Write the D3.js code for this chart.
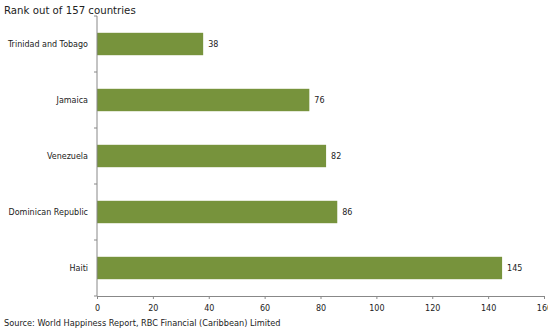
<!DOCTYPE html>
<html>
<head>
<meta charset="utf-8">
<script src="https://cdn.jsdelivr.net/npm/d3@7"></script>
<style>
  body { margin: 0; background: #fff; }
  text { font-family: "DejaVu Sans", Verdana, sans-serif; fill: #222; }
</style>
</head>
<body>
<div id="chart"></div>
<script>
var countries = ["Trinidad and Tobago", "Jamaica", "Venezuela", "Dominican Republic", "Haiti"];
var ranks = [38, 76, 82, 86, 145];
var xTicks = [0, 20, 40, 60, 80, 100, 120, 140, 160];

var svgWidth = 548;
var svgHeight = 330;
var margin = { top: 16, right: 4, bottom: 34, left: 97 };
var width = svgWidth - margin.left - margin.right;
var height = svgHeight - margin.top - margin.bottom;

var svg = d3.select("#chart")
    .append("svg")
    .attr("width", svgWidth)
    .attr("height", svgHeight);

var chartGroup = svg.append("g")
    .attr("transform", `translate(${margin.left}, ${margin.top})`);

var data = countries.map((c, i) => ({ country: c, rank: ranks[i] }));

var xScale = d3.scaleLinear().domain([0, 160]).range([0, 447]);
var yScale = d3.scaleBand().domain(countries).range([0, height]).paddingInner(0.6).paddingOuter(0.3);

// bars
chartGroup.selectAll("rect").data(data).enter()
    .append("rect")
    .attr("x", 0)
    .attr("y", d => yScale(d.country))
    .attr("width", d => xScale(d.rank))
    .attr("height", yScale.bandwidth())
    .attr("fill", "#77933c");

// value labels
chartGroup.selectAll(".val").data(data).enter()
    .append("text")
    .attr("class", "val")
    .attr("x", d => xScale(d.rank) + 5)
    .attr("y", d => yScale(d.country) + yScale.bandwidth() / 2)
    .attr("dy", "0.35em")
    .attr("font-size", 8)
    .text(d => d.rank);

// x axis
var xAxis = chartGroup.append("g")
    .attr("transform", `translate(0, ${height})`)
    .call(d3.axisBottom(xScale).tickValues(xTicks).tickSize(3).tickSizeOuter(0));
xAxis.select(".domain").attr("stroke", "#888");
xAxis.selectAll("line").attr("stroke", "#888");
xAxis.selectAll("text").attr("font-size", 8).attr("font-family", "DejaVu Sans").attr("fill", "#222").attr("dy", "1.1em");

// y axis with ticks at band boundaries
var step = height / countries.length;
chartGroup.append("line")
    .attr("x1", 0).attr("x2", 0)
    .attr("y1", 0).attr("y2", height)
    .attr("stroke", "#888");
chartGroup.selectAll(".ytick").data(d3.range(countries.length + 1)).enter()
    .append("line")
    .attr("x1", -3).attr("x2", 0)
    .attr("y1", d => d * step).attr("y2", d => d * step)
    .attr("stroke", "#888");

chartGroup.selectAll(".cat").data(countries).enter()
    .append("text")
    .attr("class", "cat")
    .attr("x", -9)
    .attr("y", d => yScale(d) + yScale.bandwidth() / 2)
    .attr("dy", "0.35em")
    .attr("text-anchor", "end")
    .attr("font-size", 8)
    .text(d => d);

// title and source
svg.append("text")
    .attr("x", 4).attr("y", 14)
    .attr("font-size", 10.2)
    .text("Rank out of 157 countries");

svg.append("text")
    .attr("x", 4).attr("y", 326)
    .attr("font-size", 8.2)
    .text("Source: World Happiness Report, RBC Financial (Caribbean) Limited");
</script>
</body>
</html>
